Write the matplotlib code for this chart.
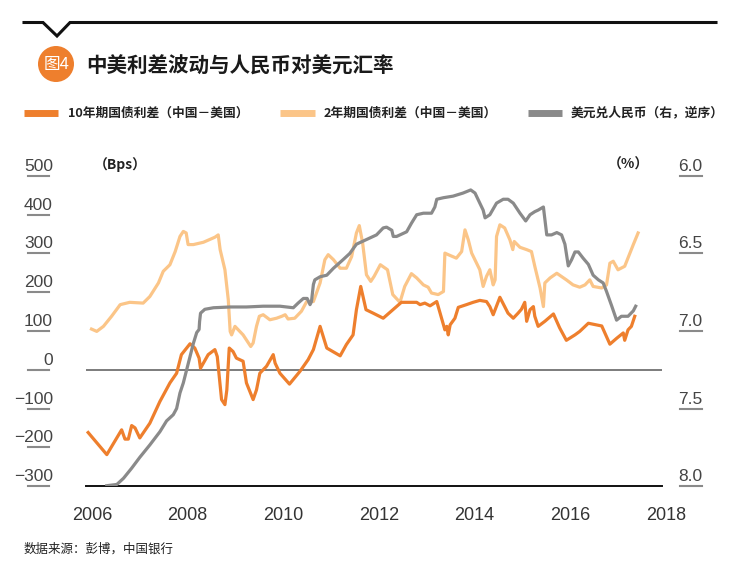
import matplotlib
matplotlib.use("Agg")
import matplotlib.pyplot as plt
import matplotlib.transforms as mtransforms
from matplotlib.lines import Line2D
from matplotlib.patches import Ellipse

plt.rcParams['font.family'] = ['Noto Sans CJK SC', 'DejaVu Sans']

# ---------------- data ----------------
y10_years = [2005.92, 2006.31, 2006.62, 2006.69, 2006.76, 2006.83, 2006.90, 2007.00, 2007.21,
             2007.42, 2007.63, 2007.77, 2007.87, 2008.05, 2008.15, 2008.24, 2008.27, 2008.43,
             2008.57, 2008.62, 2008.71, 2008.78, 2008.82, 2008.87, 2008.95, 2009.02, 2009.16,
             2009.23, 2009.37, 2009.44, 2009.51, 2009.65, 2009.79, 2009.83, 2009.93, 2010.13,
             2010.35, 2010.52, 2010.63, 2010.77, 2010.91, 2011.19, 2011.32, 2011.46, 2011.53,
             2011.62, 2011.73, 2011.88, 2012.09, 2012.47, 2012.79, 2012.86, 2012.96, 2013.07,
             2013.21, 2013.28, 2013.38, 2013.42, 2013.45, 2013.49, 2013.59, 2013.66, 2013.83,
             2013.97, 2014.11, 2014.25, 2014.32, 2014.39, 2014.53, 2014.63, 2014.70, 2014.81,
             2014.91, 2014.98, 2015.05, 2015.09, 2015.16, 2015.23, 2015.26, 2015.33, 2015.47,
             2015.65, 2015.78, 2015.92, 2016.10, 2016.20, 2016.38, 2016.66, 2016.83, 2016.97,
             2017.11, 2017.14, 2017.21, 2017.28, 2017.35]
y10_bps = [-162, -219, -155, -179, -179, -144, -150, -176, -138,
           -82, -34, -9, 39, 67, 56, 30, 4, 39,
           52, 34, -77, -90, -52, 56, 47, 30, 22,
           -34, -77, -52, -9, 9, 39, 17, -9, -37,
           -4, 26, 52, 112, 56, 36, 65, 90, 155,
           215, 155, 146, 133, 174, 174, 168, 172, 165,
           176, 146, 103, 112, 90, 116, 133, 161, 168,
           174, 179, 176, 163, 142, 187, 163, 146, 133,
           146, 156, 174, 125, 155, 163, 138, 112, 125,
           144, 108, 76, 90, 99, 120, 113, 66, 81,
           95, 76, 103, 112, 138]

y2_years = [2005.99, 2006.10, 2006.24, 2006.41, 2006.59, 2006.79, 2007.07, 2007.21, 2007.39,
            2007.49, 2007.63, 2007.74, 2007.84, 2007.91, 2007.97, 2008.01, 2008.12, 2008.33,
            2008.57, 2008.64, 2008.68, 2008.78, 2008.85, 2008.89, 2008.92, 2008.99, 2009.16,
            2009.32, 2009.37, 2009.44, 2009.50, 2009.58, 2009.72, 2009.86, 2009.97, 2010.04,
            2010.10, 2010.24, 2010.38, 2010.49, 2010.63, 2010.77, 2010.87, 2010.94, 2011.05,
            2011.19, 2011.32, 2011.43, 2011.53, 2011.59, 2011.66, 2011.74, 2011.83, 2011.90,
            2012.03, 2012.18, 2012.29, 2012.44, 2012.54, 2012.68, 2012.79, 2012.93, 2013.03,
            2013.10, 2013.24, 2013.35, 2013.38, 2013.45, 2013.62, 2013.73, 2013.80, 2013.87,
            2013.94, 2014.11, 2014.18, 2014.25, 2014.32, 2014.39, 2014.43, 2014.46, 2014.53,
            2014.63, 2014.74, 2014.80, 2014.83, 2014.95, 2015.09, 2015.19, 2015.26, 2015.37,
            2015.44, 2015.47, 2015.58, 2015.72, 2015.92, 2016.06, 2016.20, 2016.31, 2016.41,
            2016.48, 2016.66, 2016.76, 2016.83, 2016.90, 2017.00, 2017.14, 2017.32, 2017.42]
y2_bps = [105, 99, 112, 138, 168, 174, 172, 189, 224,
          254, 271, 305, 344, 357, 353, 323, 323, 329,
          342, 348, 310, 258, 181, 99, 90, 112, 90,
          60, 69, 112, 138, 142, 129, 133, 138, 142,
          131, 133, 151, 176, 176, 224, 284, 297, 284,
          262, 262, 292, 353, 372, 327, 245, 228, 241,
          271, 258, 194, 174, 215, 248, 237, 219, 213,
          198, 194, 202, 301, 297, 288, 305, 361, 335,
          301, 258, 215, 241, 258, 219, 232, 344, 374,
          366, 335, 310, 331, 316, 310, 305, 267, 211,
          163, 224, 237, 249, 232, 219, 213, 219, 232,
          215, 211, 219, 275, 280, 258, 267, 323, 353]

fx_years = [2006.31, 2006.52, 2006.66, 2006.83, 2007.00, 2007.21, 2007.42, 2007.56, 2007.70,
            2007.77, 2007.84, 2007.91, 2007.98, 2008.05, 2008.12, 2008.19, 2008.24, 2008.25,
            2008.27, 2008.36, 2008.54, 2008.89, 2009.23, 2009.58, 2009.93, 2010.21, 2010.31,
            2010.42, 2010.50, 2010.56, 2010.59, 2010.63, 2010.66, 2010.77, 2010.91, 2011.05,
            2011.25, 2011.39, 2011.53, 2011.74, 2011.95, 2012.09, 2012.16, 2012.27, 2012.30,
            2012.37, 2012.44, 2012.58, 2012.68, 2012.79, 2012.93, 2013.10, 2013.17, 2013.21,
            2013.35, 2013.55, 2013.76, 2013.92, 2014.01, 2014.11, 2014.18, 2014.22, 2014.32,
            2014.46, 2014.60, 2014.70, 2014.81, 2014.95, 2015.07, 2015.16, 2015.26, 2015.33,
            2015.44, 2015.51, 2015.61, 2015.72, 2015.82, 2015.89, 2015.96, 2016.03, 2016.10,
            2016.17, 2016.27, 2016.38, 2016.48, 2016.59, 2016.69, 2016.76, 2016.87, 2016.97,
            2017.07, 2017.21, 2017.32, 2017.37]
fx_rate = [7.998, 7.99, 7.95, 7.885, 7.815, 7.735, 7.65, 7.58, 7.54,
           7.50, 7.40, 7.335, 7.25, 7.165, 7.08, 7.01, 6.99, 6.94,
           6.885, 6.86, 6.85, 6.845, 6.845, 6.84, 6.84, 6.85, 6.82,
           6.79, 6.79, 6.83, 6.81, 6.70, 6.67, 6.65, 6.64, 6.595,
           6.54, 6.50, 6.44, 6.41, 6.38, 6.335, 6.33, 6.35, 6.39,
           6.39, 6.38, 6.36, 6.305, 6.25, 6.24, 6.24, 6.20, 6.15,
           6.14, 6.13, 6.11, 6.09, 6.11, 6.175, 6.22, 6.27, 6.25,
           6.175, 6.15, 6.15, 6.175, 6.24, 6.29, 6.25, 6.23, 6.22,
           6.20, 6.38, 6.38, 6.365, 6.38, 6.44, 6.58, 6.54, 6.49,
           6.49, 6.53, 6.57, 6.64, 6.67, 6.69, 6.745, 6.84, 6.93,
           6.905, 6.905, 6.87, 6.84]

left_ticks = [500, 400, 300, 200, 100, 0, -100, -200, -300]
right_ticks = [6.0, 6.5, 7.0, 7.5, 8.0]
right_labels = ["6.0", "6.5", "7.0", "7.5", "8.0"]
x_ticks = [2006, 2008, 2010, 2012, 2014, 2016, 2018]

title = "中美利差波动与人民币对美元汇率"
badge = "图4"
legend_labels = ["10年期国债利差（中国－美国）", "2年期国债利差（中国－美国）", "美元兑人民币（右，逆序）"]
source = "数据来源：彭博，中国银行"

# ---------------- style ----------------
C10 = "#EE7F2D"
C2 = "#FBC588"
CFX = "#8A8A8A"
W, H = 749, 574

def fxp(px):
    return px / W

def fyp(py):
    return 1 - py / H

fig = plt.figure(figsize=(W / 100, H / 100), dpi=100)
fig.patch.set_facecolor("white")

ax = fig.add_axes([fxp(86), fyp(486), fxp(662) - fxp(86), fyp(176) - fyp(486)])
ax.set_xlim(2005.875, 2017.92)
ax.set_ylim(-300, 500)
for s in ax.spines.values():
    s.set_visible(False)
ax.set_xticks([])
ax.set_yticks([])
ax.patch.set_alpha(0)

ax.axhline(0, color="#666666", lw=1.2, zorder=1)
ax.axhline(-300, color="#111111", lw=1.4, zorder=1, clip_on=False)

ax.plot(y2_years, y2_bps, color=C2, lw=2.3, solid_joinstyle="round", zorder=2)
ax.plot(y10_years, y10_bps, color=C10, lw=2.3, solid_joinstyle="round", zorder=3)

ax2 = ax.twinx()
ax2.set_ylim(8.0, 6.0)
ax2.set_xlim(ax.get_xlim())
for s in ax2.spines.values():
    s.set_visible(False)
ax2.set_yticks([])
ax2.set_xticks([])
ax2.plot(fx_years, fx_rate, color=CFX, lw=2.3, solid_joinstyle="round", zorder=4)

tick_font = dict(family=["Liberation Sans", "DejaVu Sans"], fontsize=12.5, color="#444444")

# left ticks: underlined labels
blendL = mtransforms.blended_transform_factory(fig.transFigure, ax.transData)
for v in left_ticks:
    lab = str(abs(v)) if v >= 0 else "\u2212" + str(abs(v))
    ax.annotate(lab, xy=(fxp(53), v), xycoords=blendL, xytext=(0, 2),
                textcoords="offset pixels", ha="right", va="bottom",
                annotation_clip=False, **tick_font)
    fig.add_artist(Line2D([fxp(28), fxp(49)], [v, v], transform=blendL,
                          color="#8a8a8a", lw=1.5))

# right ticks
blendR = mtransforms.blended_transform_factory(fig.transFigure, ax2.transData)
for v, lab in zip(right_ticks, right_labels):
    ax2.annotate(lab, xy=(fxp(690), v), xycoords=blendR, xytext=(0, 2),
                 textcoords="offset pixels", ha="center", va="bottom",
                 annotation_clip=False, **tick_font)
    fig.add_artist(Line2D([fxp(680), fxp(702)], [v, v], transform=blendR,
                          color="#8a8a8a", lw=1.5))

# x tick labels
blendX = mtransforms.blended_transform_factory(ax.transData, fig.transFigure)
for yv in x_ticks:
    ax.text(yv, fyp(515), str(yv), transform=blendX, ha="center", va="center",
            clip_on=False, family=["Liberation Sans", "DejaVu Sans"], fontsize=13, color="#333333")

# unit labels
fig.text(fxp(94), fyp(165), "（Bps）", ha="left", va="center", fontsize=10,
         weight="bold", color="#222222")
fig.text(fxp(649), fyp(165), "（%）", ha="right", va="center", fontsize=10,
         weight="bold", color="#222222")

# top decoration with notch
fig.add_artist(Line2D([fxp(24), fxp(43), fxp(57), fxp(70), fxp(716)],
                      [fyp(22.5), fyp(22.5), fyp(36), fyp(22.5), fyp(22.5)],
                      color="#111111", lw=2.2, solid_joinstyle="miter"))

# badge circle
fig.add_artist(Ellipse((fxp(56), fyp(64)), 36 / W, 36 / H, transform=fig.transFigure,
                       facecolor=C10, edgecolor="none"))
fig.text(fxp(57), fyp(64), badge, ha="center", va="center", fontsize=12,
         color="white")

fig.text(fxp(86), fyp(66), title, ha="left", va="center", fontsize=14.8,
         weight="bold", color="#1a1a1a")

# legend
leg_items = [(24, 58, 68, C10), (280, 315, 324, C2), (528, 562, 571, CFX)]
for (x0, x1, xt, c), lab in zip(leg_items, legend_labels):
    fig.add_artist(Line2D([fxp(x0), fxp(x1)], [fyp(113), fyp(113)], color=c, lw=5,
                          solid_capstyle="butt"))
    fig.text(fxp(xt), fyp(113), lab, ha="left", va="center", fontsize=9.2,
             weight="bold", color="#222222")

fig.text(fxp(24), fyp(549), source, ha="left", va="center", fontsize=9, color="#222222")

fig.savefig("out.png", dpi=100, facecolor="white")
